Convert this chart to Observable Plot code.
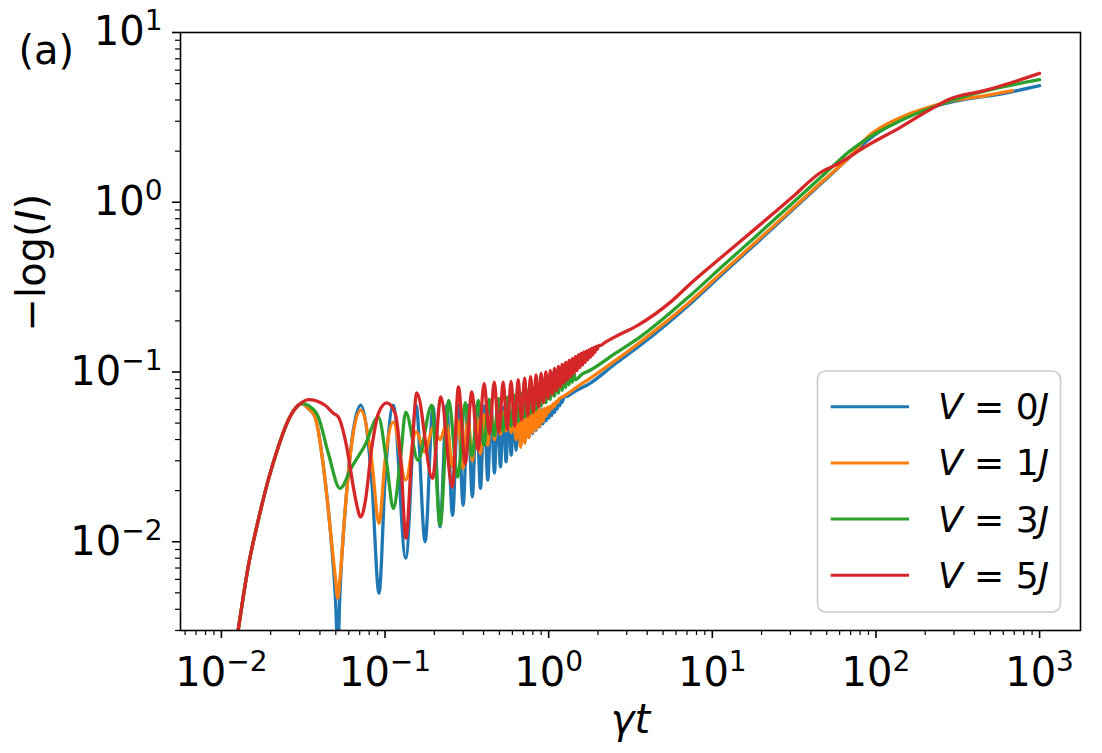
<!DOCTYPE html>
<html><head><meta charset="utf-8">
<script src="https://cdn.jsdelivr.net/npm/d3@7"></script>
<script src="https://cdn.jsdelivr.net/npm/@observablehq/plot@0.6"></script>
<style>
html,body{margin:0;padding:0;background:#fff;}
</style></head><body><div id="chart"></div>
<script>
// ---- data (γt, -log(I)) ----
const seriesNames = ["V = 0J", "V = 1J", "V = 3J", "V = 5J"];
const seriesV = ["0", "1", "3", "5"];
const seriesColors = ["#1f77b4", "#ff7f0e", "#2ca02c", "#d62728"];

// common early rise shared by all four curves
const rise = [[0.0115,0.0016],[0.01267,0.00302],[0.01458,0.00713],[0.0168,0.01341],[0.01932,0.02306],[0.02225,0.0362],[0.02562,0.052],[0.02949,0.0637]];

const v0 = [[0.0312,0.0652],[0.034,0.0609],[0.0373,0.0544],[0.043,0.0231],[0.0472,0.0094],[0.05,0.0042],[0.0514,0.0022],[0.053,0.005],[0.0569,0.0148],[0.064,0.0454],[0.071,0.0637],[0.0829,0.023],[0.0919,0.00497],[0.1,0.023],[0.1124,0.0637],[0.1338,0.008],[0.1548,0.0637],[0.1757,0.01],[0.1964,0.0625],[0.217,0.01225],[0.2378,0.0635],[0.2585,0.0143],[0.2793,0.0635],[0.3,0.0164],[0.3208,0.0635],[0.3415,0.0184],[0.3623,0.0632],[0.383,0.0206],[0.4038,0.063],[0.4245,0.0231],[0.4453,0.0628],[0.466,0.0254],[0.4868,0.0625],[0.5075,0.0276],[0.5283,0.062],[0.549,0.0296],[0.5698,0.0615],[0.5905,0.0324],[0.6113,0.061],[0.632,0.0346],[0.6528,0.0605],[0.6735,0.0368],[0.6943,0.06],[0.715,0.039],[0.7358,0.06],[0.7565,0.0412],[0.7773,0.0598],[0.798,0.0433],[0.8188,0.0598],[0.8395,0.0454],[0.8603,0.06],[0.881,0.0475],[0.9018,0.0603],[0.9225,0.0495],[0.9433,0.0608],[0.964,0.0515],[0.9848,0.0615],[1.0055,0.0535],[1.0263,0.0625],[1.047,0.0555],[1.0678,0.0638],[1.0885,0.0578],[1.1093,0.0655],[1.13,0.0605],[1.1508,0.0672],[1.1715,0.0635],[1.1923,0.069],[1.213,0.0665],[1.2338,0.071],[1.3,0.072],[1.45,0.077],[1.79,0.0858],[2.5,0.11],[3.63,0.1436],[7.34,0.2526],[11.7,0.3824],[18.8,0.5794],[30,0.878],[47.9,1.329],[69.8,1.857],[88.4,2.306],[141,3.065],[226,3.655],[361,4.058],[577,4.342],[1000,4.86]];

const v1 = [[0.0312,0.0652],[0.034,0.0609],[0.0373,0.0544],[0.043,0.0231],[0.0472,0.0098],[0.05,0.0058],[0.0514,0.00465],[0.053,0.006],[0.0569,0.015],[0.064,0.044],[0.0712,0.0596],[0.0829,0.03],[0.0919,0.0128],[0.1,0.03],[0.1124,0.0506],[0.1338,0.0231],[0.1548,0.0444],[0.1757,0.0338],[0.1964,0.047],[0.217,0.04],[0.2378,0.0497],[0.2585,0.0276],[0.2793,0.052],[0.3,0.027],[0.3208,0.054],[0.3415,0.03],[0.3623,0.055],[0.383,0.033],[0.4038,0.056],[0.4245,0.037],[0.4453,0.0565],[0.466,0.04],[0.4868,0.057],[0.5075,0.043],[0.5283,0.0575],[0.549,0.045],[0.5698,0.058],[0.5905,0.044],[0.6113,0.058],[0.632,0.04],[0.6528,0.058],[0.6735,0.036],[0.6943,0.058],[0.715,0.038],[0.7358,0.058],[0.7565,0.041],[0.7773,0.0585],[0.798,0.044],[0.8188,0.059],[0.8395,0.046],[0.8603,0.0595],[0.881,0.048],[0.9018,0.06],[0.9225,0.051],[0.9433,0.061],[0.964,0.055],[0.9848,0.062],[1.0055,0.058],[1.0263,0.063],[1.047,0.061],[1.0678,0.065],[1.0885,0.063],[1.1093,0.067],[1.13,0.066],[1.1508,0.069],[1.25,0.0725],[1.5,0.082],[1.79,0.0918],[2.5,0.115],[3.63,0.1503],[7.34,0.2606],[11.7,0.3928],[18.8,0.5926],[30,0.8936],[47.9,1.347],[69.8,1.873],[88.4,2.41],[141,3.149],[226,3.705],[283,3.93],[459,4.24],[681,4.54]];

const v3 = [[0.0312,0.0652],[0.034,0.0635],[0.0391,0.0544],[0.045,0.0332],[0.0531,0.0206],[0.0626,0.0276],[0.0755,0.0371],[0.091,0.0544],[0.1024,0.0289],[0.1124,0.0157],[0.1235,0.0289],[0.1338,0.0581],[0.159,0.0302],[0.193,0.0637],[0.217,0.0125],[0.245,0.068],[0.278,0.024],[0.309,0.066],[0.34,0.032],[0.371,0.068],[0.402,0.037],[0.433,0.069],[0.464,0.042],[0.495,0.07],[0.526,0.045],[0.557,0.071],[0.588,0.048],[0.619,0.073],[0.65,0.051],[0.681,0.075],[0.712,0.054],[0.743,0.078],[0.774,0.057],[0.805,0.08],[0.836,0.06],[0.867,0.082],[0.898,0.063],[0.929,0.084],[0.96,0.066],[0.991,0.086],[1.022,0.069],[1.053,0.088],[1.084,0.072],[1.115,0.09],[1.146,0.075],[1.177,0.092],[1.208,0.078],[1.239,0.094],[1.27,0.081],[1.301,0.096],[1.332,0.084],[1.363,0.098],[1.394,0.087],[1.425,0.099],[1.456,0.09],[1.6,0.097],[1.79,0.1023],[2.5,0.127],[3.63,0.161],[7.34,0.2826],[11.7,0.4253],[18.8,0.64],[30,0.964],[47.9,1.451],[69.8,2.014],[88.4,2.37],[141,3.024],[226,3.655],[361,4.243],[577,4.75],[1000,5.27]];

const v5 = [[0.0312,0.0665],[0.034,0.0688],[0.043,0.0637],[0.0483,0.0572],[0.0518,0.0544],[0.0583,0.0362],[0.064,0.021],[0.0667,0.017],[0.071,0.014],[0.0755,0.017],[0.0831,0.0362],[0.091,0.0569],[0.1024,0.0657],[0.1154,0.0569],[0.1252,0.0289],[0.134,0.0105],[0.1448,0.03],[0.1563,0.0752],[0.195,0.0236],[0.2192,0.0713],[0.258,0.021],[0.2808,0.0816],[0.309,0.0289],[0.3391,0.0763],[0.37,0.0346],[0.4032,0.0855],[0.434,0.0434],[0.465,0.087],[0.496,0.044],[0.527,0.087],[0.558,0.046],[0.589,0.088],[0.62,0.048],[0.651,0.09],[0.682,0.052],[0.713,0.092],[0.744,0.055],[0.775,0.094],[0.806,0.058],[0.837,0.096],[0.868,0.062],[0.899,0.098],[0.93,0.066],[0.961,0.1],[0.992,0.07],[1.023,0.102],[1.054,0.074],[1.085,0.105],[1.116,0.078],[1.147,0.108],[1.178,0.082],[1.209,0.111],[1.24,0.086],[1.271,0.114],[1.302,0.09],[1.333,0.117],[1.364,0.094],[1.395,0.12],[1.426,0.098],[1.457,0.123],[1.488,0.102],[1.519,0.126],[1.55,0.106],[1.581,0.129],[1.612,0.11],[1.643,0.1315],[1.674,0.114],[1.705,0.1335],[1.736,0.118],[1.767,0.1355],[1.798,0.122],[1.829,0.1375],[1.86,0.126],[1.891,0.1395],[1.922,0.131],[1.953,0.1415],[1.984,0.136],[2.015,0.143],[2.08,0.1435],[2.2,0.149],[2.6,0.163],[3.5,0.1884],[5.55,0.258],[7.34,0.331],[11.7,0.4858],[18.8,0.7136],[30,1.047],[47.9,1.536],[55.2,1.635],[88.4,2.156],[141,2.762],[226,3.62],[283,4.058],[458,4.54],[731,5.2],[1000,5.74]];

const seriesData = [v0, v1, v3, v5];

// ticks
const xMajorTicks = [0.01, 0.1, 1, 10, 100, 1000];
const yMajorTicks = [0.01, 0.1, 1, 10];
const xMinorTicks = [];
[-3, -2, -1, 0, 1, 2].forEach(k => { for (let m = 2; m <= 9; m++) { const v = m * 10 ** k; if (v > 0.0056 && v < 1778) xMinorTicks.push(v); } });
const yMinorTicks = [];
[-3, -2, -1, 0].forEach(k => { for (let m = 2; m <= 9; m++) { const v = m * 10 ** k; if (v >= 0.003 && v < 10) yMinorTicks.push(v); } });

const rows = [];
seriesData.forEach((arr, i) => {
  rise.concat(arr).forEach(([t, y]) => rows.push({t, y, s: seriesNames[i]}));
});

const expFmt = d => "10^" + String(Math.round(Math.log10(d))).replace("-", "\u2212");

const chart = Plot.plot({
  width: 1102, height: 753,
  marginLeft: 180, marginRight: 22, marginTop: 32, marginBottom: 123,
  style: {fontFamily: "DejaVu Sans", fontSize: "40px", background: "white", color: "black"},
  x: {type: "log", domain: [10 ** -2.25, 10 ** 3.25], label: null},
  y: {type: "log", domain: [0.003, 10], label: null},
  color: {domain: seriesNames, range: seriesColors},
  marks: [
    Plot.line(rows, {x: "t", y: "y", z: "s", stroke: "s", strokeWidth: 3.3, curve: "monotone-x", clip: true}),
    Plot.axisX(xMinorTicks, {tickSize: 5, strokeWidth: 1.2, tickFormat: () => "", label: null}),
    Plot.axisY(yMinorTicks, {tickSize: 5, strokeWidth: 1.2, tickFormat: () => "", label: null}),
    Plot.axisX(xMajorTicks, {tickSize: 8, tickPadding: 19, strokeWidth: 1.6, tickFormat: expFmt, fontSize: 40, label: null}),
    Plot.axisY(yMajorTicks, {tickSize: 8, tickPadding: 10, strokeWidth: 1.6, tickFormat: expFmt, fontSize: 40, label: null}),
    Plot.text(["\u03b3t"], {frameAnchor: "bottom", dy: 102, fontSize: 40, fontStyle: "italic"}),
    Plot.text(["\u2212log(I)"], {frameAnchor: "left", rotate: -90, dx: -148, fontSize: 40}),
    Plot.text(["(a)"], {frameAnchor: "top-left", dx: -162, dy: 3, fontSize: 40, textAnchor: "start"}),
    Plot.frame({stroke: "black", strokeWidth: 1.6})
  ]
});

document.getElementById("chart").append(chart);

const NS = "http://www.w3.org/2000/svg";
// superscript tick labels and italic I
chart.querySelectorAll("text").forEach(el => {
  const txt = el.textContent;
  const m = txt.match(/^10\^(.+)$/);
  if (m) {
    el.textContent = "";
    const b = document.createElementNS(NS, "tspan"); b.textContent = "10";
    const s = document.createElementNS(NS, "tspan"); s.textContent = m[1];
    s.setAttribute("dy", "-15"); s.setAttribute("font-size", "28");
    el.append(b, s);
  } else if (txt === "\u2212log(I)") {
    el.textContent = "";
    const a = document.createElementNS(NS, "tspan"); a.textContent = "\u2212log(";
    const i = document.createElementNS(NS, "tspan"); i.textContent = "I"; i.setAttribute("font-style", "italic");
    const c = document.createElementNS(NS, "tspan"); c.textContent = ")";
    el.append(a, i, c);
  }
});

// legend inside the axes (lower right)
const svg = d3.select(chart);
const leg = svg.append("g").attr("font-family", "DejaVu Sans").attr("font-size", 36).attr("text-anchor", "start");
leg.append("rect").attr("x", 817.5).attr("y", 371).attr("width", 243).attr("height", 241).attr("rx", 8)
  .attr("fill", "white").attr("fill-opacity", 0.8).attr("stroke", "#cccccc").attr("stroke-width", 1.6);
seriesNames.forEach((name, i) => {
  const yy = 406.7 + i * 56.2;
  leg.append("line").attr("x1", 830.7).attr("x2", 909).attr("y1", yy).attr("y2", yy)
    .attr("stroke", seriesColors[i]).attr("stroke-width", 3);
  const t = leg.append("text").attr("x", 938).attr("y", yy + 12.5).attr("fill", "black").attr("text-anchor", "start");
  t.append("tspan").attr("font-style", "italic").text("V");
  t.append("tspan").text(" = " + seriesV[i]);
  t.append("tspan").attr("font-style", "italic").text("J");
});
</script>
</body></html>
